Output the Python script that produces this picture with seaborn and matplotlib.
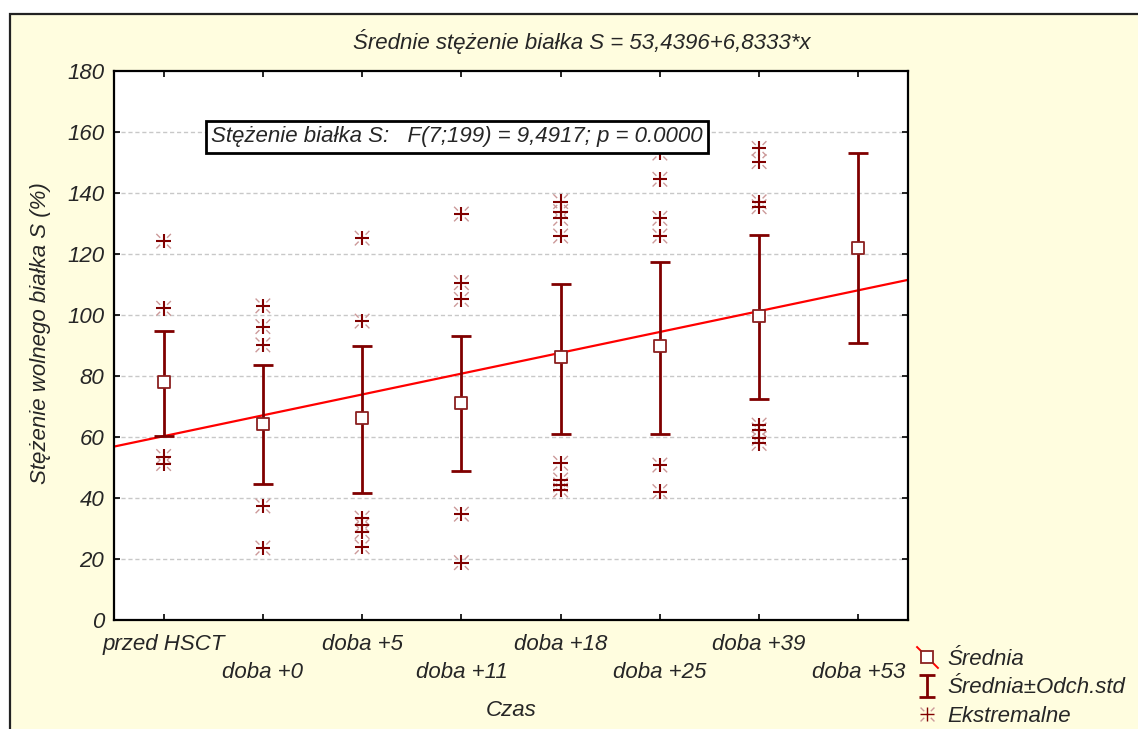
import numpy as np
import pandas as pd
import matplotlib
matplotlib.use("Agg")
import matplotlib.pyplot as plt
import seaborn as sns
from matplotlib.path import Path
from matplotlib.lines import Line2D
from matplotlib.patches import Rectangle
from matplotlib.legend_handler import HandlerTuple

# ---------------- data ----------------
categories = ["przed HSCT", "doba +0", "doba +5", "doba +11",
              "doba +18", "doba +25", "doba +39", "doba +53"]
x_pos = [1, 2, 3, 4, 5, 6, 7, 8]
means = [78.0, 64.4, 66.3, 71.2, 86.1, 89.8, 99.8, 122.1]
upper = [94.6, 83.7, 89.9, 93.0, 110.2, 117.4, 126.3, 153.1]
lower = [60.3, 44.6, 41.6, 48.8, 61.0, 61.0, 72.6, 90.7]
ext_1 = [124.2, 102.2, 53.6, 51.3]
ext_2 = [103.0, 96.2, 90.2, 37.4, 23.6]
ext_3 = [125.2, 98.0, 33.4, 31.1, 29.0, 24.0]
ext_4 = [133.1, 110.6, 105.1, 34.7, 18.8]
ext_5 = [137.2, 133.9, 131.7, 125.9, 51.4, 45.9, 44.3, 42.6]
ext_6 = [153.1, 144.5, 131.7, 125.9, 50.8, 42.1]
ext_7 = [154.6, 150.3, 137.1, 135.5, 63.9, 62.3, 59.6, 57.9]
ext_8 = []
intercept = 53.4396
slope = 6.8333
y_ticks = [0, 20, 40, 60, 80, 100, 120, 140, 160, 180]

title = "Średnie stężenie białka S = 53,4396+6,8333*x"
stat_text = "Stężenie białka S:   F(7;199) = 9,4917; p = 0.0000"
ylabel = "Stężenie wolnego białka S (%)"
xlabel = "Czas"
legend_labels = ["Średnia", "Średnia±Odch.std", "Ekstremalne"]

# ---------------- style ----------------
sns.set_theme(style="white")
plt.rcParams['font.family'] = ['Liberation Sans', 'DejaVu Sans']
plt.rcParams['font.style'] = 'italic'

dark_red = "#800000"
beige = "#FFFDDF"
FS = 16

fig = plt.figure(figsize=(11.38, 7.29), dpi=100)
fig.patch.set_facecolor("white")
# outer frame (cropped on right/bottom)
fig.patches.append(Rectangle((10 / 1138, -0.02), 1.05, 1 - 14 / 729 + 0.02,
                             transform=fig.transFigure, facecolor=beige,
                             edgecolor="#222222", lw=1.6, zorder=-10))

ax = fig.add_axes([114 / 1138, 1 - 620 / 729, 794 / 1138, 549 / 729])
ax.set_facecolor("white")

# grid
for yv in y_ticks[1:-1]:
    ax.axhline(yv, color="#C8C8C8", lw=1.0, ls=(0, (3, 2)), zorder=0)

# regression line
xl = np.array([0.5, 8.5])
reg_df = pd.DataFrame({"x": xl, "y": intercept + slope * xl})
sns.lineplot(data=reg_df, x="x", y="y", color="#FF0000", lw=1.6, ax=ax, zorder=2)

# error bars
means_a = np.array(means)
yerr = np.vstack([means_a - np.array(lower), np.array(upper) - means_a])
ax.errorbar(x_pos, means, yerr=yerr, fmt="none", ecolor=dark_red, elinewidth=2,
            capsize=7, capthick=2, zorder=3)

# extreme marker paths
plus_path = Path([(0, -1), (0, 1), (-1, 0), (1, 0)],
                 [Path.MOVETO, Path.LINETO, Path.MOVETO, Path.LINETO])
d0, d1 = 0.45, 0.95
diag_verts = []
diag_codes = []
for sx, sy in [(1, 1), (-1, 1), (1, -1), (-1, -1)]:
    diag_verts += [(sx * d0, sy * d0), (sx * d1, sy * d1)]
    diag_codes += [Path.MOVETO, Path.LINETO]
diag_path = Path(diag_verts, diag_codes)

ext_lists = [ext_1, ext_2, ext_3, ext_4, ext_5, ext_6, ext_7, ext_8]
ext_df = pd.DataFrame({
    "x": [x for x, lst in zip(x_pos, ext_lists) for _ in lst],
    "y": [v for lst in ext_lists for v in lst],
})
sns.scatterplot(data=ext_df, x="x", y="y", marker=diag_path, s=110,
                color="none", edgecolor="#CC9999", linewidth=1.0, ax=ax, zorder=4)
sns.scatterplot(data=ext_df, x="x", y="y", marker=plus_path, s=110,
                color="none", edgecolor=dark_red, linewidth=1.5, ax=ax, zorder=4)

# means
mean_df = pd.DataFrame({"x": x_pos, "y": means})
sns.scatterplot(data=mean_df, x="x", y="y", marker="s", s=70, color="white",
                edgecolor="#8B2020", linewidth=1.3, ax=ax, zorder=5)

# axes
ax.set_xlim(0.5, 8.5)
ax.set_ylim(0, 180)
ax.set_yticks(y_ticks)
ax.set_yticklabels([str(v) for v in y_ticks], fontsize=FS, style="italic")
ax.set_xticks(x_pos)
ax.set_xticklabels([c if i % 2 == 0 else "\n" + c for i, c in enumerate(categories)],
                   fontsize=FS, style="italic", linespacing=1.45)
ax.tick_params(axis="both", direction="in", length=4, width=1.2, color="black",
               top=True, right=True, bottom=True, left=True)
ax.tick_params(axis="y", pad=7)
ax.tick_params(axis="x", pad=10)
for s in ax.spines.values():
    s.set_color("black")
    s.set_linewidth(1.6)
    s.set_visible(True)

ax.set_xlabel(xlabel, fontsize=FS, style="italic")
ax.set_ylabel(ylabel, fontsize=FS, style="italic")
ax.xaxis.label.set_va("center")
ax.xaxis.set_label_coords(0.5, (620 - 711) / 549)
ax.yaxis.set_label_coords((51 - 114) / 794, (620 - 333) / 549)

# annotation box
ax.text(3.955, 158.4, stat_text, fontsize=FS, style="italic", ha="center",
        va="center", zorder=10,
        bbox=dict(boxstyle="square,pad=0.25", facecolor="white",
                  edgecolor="black", lw=2))

# title
fig.text(582 / 1138, 1 - 42 / 729, title, fontsize=FS, style="italic",
         ha="center", va="center")

# legend
diag_line = Path([(-1, 1), (1, -1)], [Path.MOVETO, Path.LINETO])
ibeam = Path([(0, -1), (0, 1), (-0.7, 1), (0.7, 1), (-0.7, -1), (0.7, -1)],
             [Path.MOVETO, Path.LINETO, Path.MOVETO, Path.LINETO,
              Path.MOVETO, Path.LINETO])
h_mean = (Line2D([], [], ls="none", marker=diag_line, markersize=16,
                 markeredgecolor="#FF0000", markeredgewidth=1.4),
          Line2D([], [], ls="none", marker="s", markersize=8,
                 markerfacecolor="white", markeredgecolor="#8B2020",
                 markeredgewidth=1.3))
h_sd = Line2D([], [], ls="none", marker=ibeam, markersize=16,
              markeredgecolor=dark_red, markeredgewidth=2)
h_ext = (Line2D([], [], ls="none", marker=diag_path, markersize=10,
                markeredgecolor="#CC9999", markeredgewidth=1.0),
         Line2D([], [], ls="none", marker=plus_path, markersize=10,
                markeredgecolor=dark_red, markeredgewidth=1.0))
fig.legend([h_mean, h_sd, h_ext], legend_labels,
           handler_map={tuple: HandlerTuple(ndivide=1)},
           loc="upper left", bbox_to_anchor=(905 / 1138, 1 - 638 / 729),
           frameon=False, prop={"style": "italic", "size": FS},
           handlelength=1.0, handletextpad=0.4, labelspacing=0.33,
           borderpad=0.0)

fig.savefig("out.png", dpi=100)
